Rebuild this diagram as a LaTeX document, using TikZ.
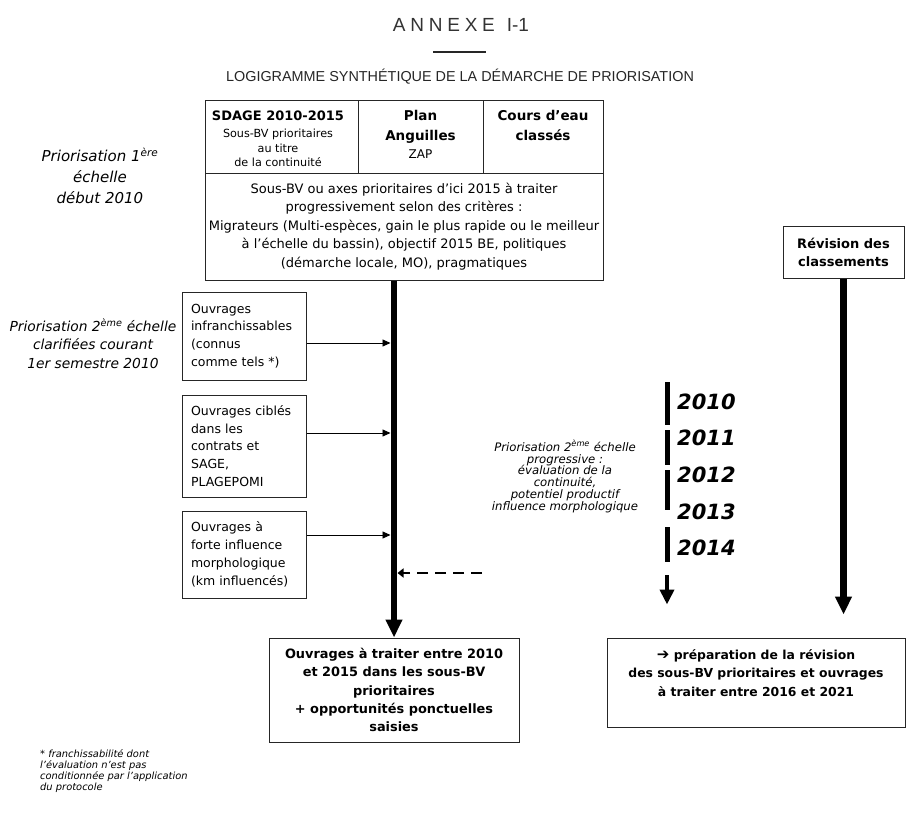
\documentclass[tikz,border=0pt]{standalone}
\usepackage{fontspec}
\setmainfont{DejaVu Sans}
\newfontfamily\headfont{Liberation Sans}
\newfontfamily\spacedfont[LetterSpace=25]{Liberation Sans}
\usetikzlibrary{arrows.meta}
\newcommand{\fsz}[2]{\fontsize{#1}{#2}\selectfont}

\begin{document}
\begin{tikzpicture}[x=1pt,y=-1pt,
  box/.style={draw=black!85, line width=1pt, inner sep=0pt},
  txt/.style={inner sep=0pt, align=center},
  spine/.style={line width=6pt, -{Triangle[length=18pt,width=16pt]}},
  feed/.style={line width=0.9pt, -{Triangle[length=8pt,width=7pt]}},
  dasharrow/.style={line width=2.6pt, dash pattern=on 11pt off 7pt, -{Triangle[length=6pt,width=9pt]}},
  tick/.style={line width=5pt},
  tlarrow/.style={line width=4pt, -{Triangle[length=15pt,width=14pt]}},
  year/.style={inner sep=0pt, anchor=west, font=\bfseries\itshape\fsz{21}{23}},
  side/.style={inner sep=0pt, align=center, font=\itshape\fsz{13.8}{18.5}}
]
\useasboundingbox (0,0) rectangle (906,817);

% heading
\node[txt, text=black!80] (title) at (461,25)
  {{\spacedfont\fsz{19}{22}ANNEXE}\hspace{12pt}{\headfont\fsz{19}{22}I-1}};
\draw[line width=1.8pt, black!85] (433,52) -- (486,52);
\node[txt, text=black!85, font=\headfont\fsz{14.4}{17}] (subtitle) at (460,77)
  {LOGIGRAMME SYNTHÉTIQUE DE LA DÉMARCHE DE PRIORISATION};

% first-level table
\node[box, minimum width=153pt, minimum height=73pt] (sdage) at (281.5,136.5) {};
\node[box, minimum width=125pt, minimum height=73pt] (plan) at (420.5,136.5) {};
\node[box, minimum width=120pt, minimum height=73pt] (cours) at (543,136.5) {};
\node[txt, font=\fsz{11.2}{14.5}] (sdagetxt) at (278,139)
  {{\bfseries\fsz{13}{14.5}SDAGE 2010-2015}\\[3pt]Sous-BV prioritaires\\au titre\\de la continuité};
\node[txt, font=\bfseries\fsz{13.5}{20}] (plantxt) at (420.5,134)
  {Plan\\Anguilles\\[-2pt]{\mdseries\fsz{12}{18}ZAP}};
\node[txt, font=\bfseries\fsz{13.5}{20}] (courstxt) at (543,125)
  {Cours d’eau\\classés};
\node[box, minimum width=398pt, minimum height=107pt, align=center, font=\fsz{13}{18.5}] (crit) at (404,226.5)
  {Sous-BV ou axes prioritaires d’ici 2015 à traiter\\
   progressivement selon des critères :\\
   Migrateurs (Multi-espèces, gain le plus rapide ou le meilleur\\
   à l’échelle du bassin), objectif 2015 BE, politiques\\
   (démarche locale, MO), pragmatiques};

% side labels
\node[side, font=\itshape\fsz{15}{21}] (lvl1) at (100,176)
  {Priorisation 1\textsuperscript{ère}\\échelle\\début 2010};
\node[side] (lvl2) at (93,343.5)
  {Priorisation 2\textsuperscript{ème} échelle\\clarifiées courant\\1er semestre 2010};

% second-level boxes
\tikzset{obox/.style={box, minimum width=124pt, text width=106pt, align=left, font=\fsz{12.5}{17.8}}}
\node[obox, minimum height=88pt] (ob1) at (244,336)
  {Ouvrages\\infranchissables\\(connus\\comme tels *)};
\node[obox, minimum height=102pt] (ob2) at (244,446)
  {Ouvrages ciblés\\dans les\\contrats et\\SAGE,\\PLAGEPOMI};
\node[obox, minimum height=87pt] (ob3) at (244,554.5)
  {Ouvrages à\\forte influence\\morphologique\\(km influencés)};

% outcome boxes
\node[box, minimum width=250pt, minimum height=104pt, align=center, font=\bfseries\fsz{12.9}{18.3}] (out) at (394,690)
  {Ouvrages à traiter entre 2010\\et 2015 dans les sous-BV\\prioritaires\\+ opportunités ponctuelles\\saisies};
\node[box, minimum width=121pt, minimum height=52pt, align=center, font=\bfseries\fsz{13}{18}] (rev) at (843.5,252)
  {Révision des\\classements};
\node[box, minimum width=298pt, minimum height=89pt] (prep) at (756,682.5) {};
\node[txt, font=\bfseries\fsz{12.4}{18.5}] (preptxt) at (756,673)
  {{\fsz{15}{18.5}➔} préparation de la révision\\des sous-BV prioritaires et ouvrages\\à traiter entre 2016 et 2021};

% main flow
\coordinate (spL) at ([xshift=-3.5pt]out.north);
\coordinate (spR) at ([xshift=3.5pt]out.north);
\draw[spine] (crit.south -| out.north) -- (out.north);
\draw[spine, line width=6.5pt, shorten >=23pt] (rev.south) -- (rev.south |- prep.north);

\coordinate (f1) at ([yshift=-7pt]ob1.east);
\coordinate (f2) at ([yshift=13pt]ob2.east);
\coordinate (f3) at ([yshift=19.5pt]ob3.east);
\draw[feed] (f1) -- (f1 -| spL);
\draw[feed] (f2) -- (f2 -| spL);
\draw[feed] (f3) -- (f3 -| spL);

\coordinate (dashstart) at (482,573);
\draw[dasharrow] (dashstart) -- (dashstart -| spR);

% progressive timeline
\coordinate (t1) at (667,382); \coordinate (t1e) at (667,425);
\coordinate (t2) at (667,430); \coordinate (t2e) at (667,465);
\coordinate (t3) at (667,470); \coordinate (t3e) at (667,510);
\coordinate (t4) at (667,527); \coordinate (t4e) at (667,562);
\coordinate (t5) at (667,575);
\draw[tick] (t1) -- (t1e);
\draw[tick] (t2) -- (t2e);
\draw[tick] (t3) -- (t3e);
\draw[tick] (t4) -- (t4e);
\draw[tlarrow, shorten >=33pt] (t5) -- (t5 |- prep.north);

\node[year] (y2010) at (677,402) {2010};
\node[year] (y2011) at (677,438) {2011};
\node[year] (y2012) at (677,475) {2012};
\node[year] (y2013) at (677,512) {2013};
\node[year] (y2014) at (677,548) {2014};

\node[txt, font=\itshape\fsz{11.7}{11.8}] (prog) at (565,476.5)
  {Priorisation 2\textsuperscript{ème} échelle\\progressive :\\évaluation de la\\continuité,\\potentiel productif\\influence morphologique};

% footnote
\node[inner sep=0pt, anchor=west, align=left, font=\itshape\fsz{9.9}{11}] (note) at (40,771.5)
  {* franchissabilité dont\\l’évaluation n’est pas\\conditionnée par l’application\\du protocole};
\end{tikzpicture}
\end{document}
